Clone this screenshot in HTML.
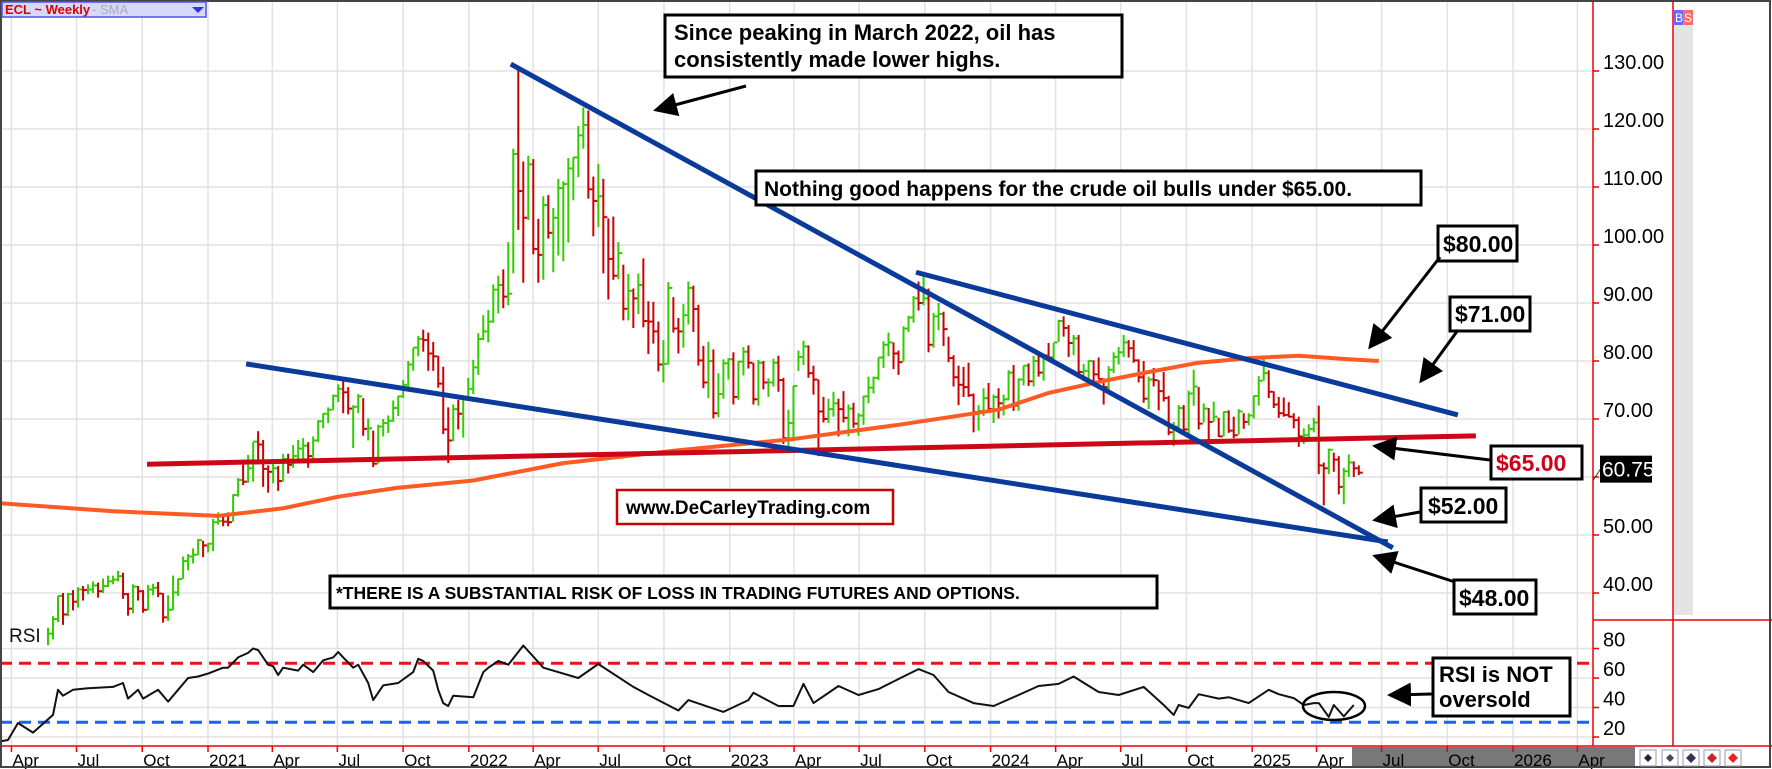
<!DOCTYPE html>
<html><head><meta charset="utf-8"><style>
html,body{margin:0;padding:0;background:#fff;}
svg{display:block;font-family:"Liberation Sans",Arial,sans-serif;}
</style></head><body>
<svg id="chart" xmlns="http://www.w3.org/2000/svg" width="1772" height="769" viewBox="0 0 1772 769">
<rect x="0" y="0" width="1772" height="769" fill="#fff"/>
<g id="grid"></g>
<g id="bars"></g>
<g id="overlay"></g>
<g id="rsi"></g>
<g id="axes"></g>
<g id="ann"></g>
</svg>
<script>
// ---- data (weekly bars starting 2020-05-22) ----
const highs=[34,36, 39.5,40,40,40.5, 41,41.2,41.5,42,41.8, 42.5,43,43,43.8, 43.5,40,41.5,41.2, 40.5,41.4,41.6,41.9,40, 39.6,43,42.5,46.3, 46.7,47.7,49.3,49,
48.6,52.8,53.9,53.5,53.9, 57,59.8,62.3,63.8, 66,67.9,66.4,62, 62.3,61.9,64,64,65.5, 66.4,66.7,66,67, 69.8,71,72,74.2, 76,76.9,75.5,72.4,74.3, 73.6,70.1,68,69, 70,70.6,73.2,74, 76.7,80,82.2,84.3,85.4, 84.9,83.3,80.9,79, 72,72.5,73.3,74,77.1,
80.2,84.8,87.9,88.8, 93.2,94.7,95.8,100.5, 116.6,130.5,114.4,115.4, 114.8,104.5,108.4,108.6,106.4, 111.4,111,115,115.1, 120.5,123.7,123.2,111.8, 114,111.4,104.6,104.9,100.5, 96.6,95,92.5,95.1, 97.7,90.3,90.2,86.8,83.6, 93.6,91,87.4,89.8, 93.7,93,89.7,82.6, 83.3,82,77.9,80.3,80.5,
81.5,80,82.4,82.7, 79.7,80.2,80,77, 80.4,80.9,77.1,71.6,75.7, 81.8,83.5,82.7,79.2, 76.8,73.8,73.5,74.7, 73.5,74.8,72.5,72.8,71, 74,77.3,77.3,80.6, 83.4,84.9,83.2,81.8, 86,87.8,91.2,93.7,95, 92.5,88.3,90,88.5, 84.2,81,79.2,79, 79.7,74.4,72.4,75.3,76.2,
74.2,75.3,74.2,78.4, 79.3,77,79.2,79.6, 80.9,80.9,81.2,83.1,83.1, 87.1,87.7,86.2,84.5, 84.5,79.5,80.1,80.1,80.6, 77,79.1,81.5,82.4, 84.5,83.6,83.6,80.3, 80,77.3,78.8,76.7,78.1, 74,69.5,72.4,72.4, 74.9,78.5,75.5,72.7, 71.9,73,70.2,71.3,71.5, 70.4,71.7,71,71,
74,77.4,80.8,78.4,74.8, 73.8,73.7,72.9,71, 70.4,68.4,69.1,70.2, 72.3,62.5,64.9,64.2, 63.6,61.6,63.9,62.7,62];
const lows=[31,32, 35,34.5,36,37, 37.5,38.7,39.8,40,39.2, 40,41,41.5,42, 39,36.1,36.5,38.7, 36.6,37,39.6,39.3,34.9, 35.2,37,39.5,42.4, 43.9,45.1,46.5,46.2,
47,47.2,51.8,51.5,51.5, 52.3,56.6,58.6,59, 59.2,63,58.3,57.3, 58.9,57.6,59.2,60.6,61.6, 63.1,63,61.6,62.6, 66,68.4,69.3,71.5, 72.9,71,70.8,65,71, 67.1,66.3,61.7,62.3, 67,67.6,69.5,70.5, 73.6,74.9,78.3,80.8,81.6, 78.3,78.3,75.4,67.4, 62.4,66.2,68.2,66.8,73.5,
74.3,77.6,83.6,83.2, 86.6,88.2,89.1,89.6, 95.1,102.6,93.5,104.3, 98.4,93.5,94,101.1,95.3, 98.2,97.2,100.4,107.7, 111.7,116.6,108,101.5, 103.1,95.1,90.6,94,94.1, 87,87,85.7,88.1, 85.8,81.2,83,78.2,76.3, 79.4,84.9,81.3,82.3, 86.3,85,79.2,75.3, 73.6,70.1,70.3,73.5,76.8,
72.5,73.3,77.5,78.7, 72.5,72.3,75.1,73.8, 75.6,74.7,65.7,64.1,66.8, 78.3,79.3,77.1,74.2, 63.6,69.4,69.3,70.4, 67,69.4,67,68.5,67.1, 69,72.7,74.4,76.7, 78.8,80.8,78.6,77.6, 79.9,85,86.6,88.7,89.6, 81.5,82.3,85.3,82.6, 79.8,75.6,72.4,73.8, 73.8,67.7,68,70.5,71.4,
69.3,70.1,70.6,73.2, 71.4,71.4,75.8,75.7, 75.6,77.3,76.6,79.9,80, 83.3,84.2,80.7,81, 77.6,76.5,76.6,76,76.9, 72.5,75.1,77.9,79.4, 80.7,80.6,79.7,76.3, 72.8,71.7,75.6,71.5,73, 67.2,65.3,67.8,67.3, 66.8,72.3,68.2,69.4, 65.7,69.5,66.9,67,67.6, 66.7,67.3,68.3,68.9,
70.1,72.3,76.6,73.6,71.9, 70.2,70.4,70.3,68.4, 65.2,65.7,66.2,67.7, 60.5,55.1,60.5,60.9, 57,55.3,60,60,60.3];
const closes=[33,35.5, 39.5,36.3,39.8,38.5, 40.6,40.5,40.6,41.3,40.3, 41.2,42,42.3,42.9, 39.8,37.3,41.1,40.3, 37.1,40.6,40.9,39.9,35.8, 37.1,40.1,42.4,45.5, 46.3,46.6,49.1,48.2,
48.5,52.2,52.4,52.3,52.2, 56.9,59.5,59.2,61.5, 66.1,65.6,61.4,60.9, 61.5,59.3,63.1,62.1,63.6, 64.9,65.4,63.6,66.3, 69.6,70.9,71.6,74, 75.2,74.6,71.8,72.1,73.9, 68.3,68.4,62.3,68.7, 69.3,69.7,71.9,73.9, 75.9,79.4,82.3,83.8,83.6, 81.3,80.8,76.1,68.2, 66.3,71.7,70.9,73.8,75.2,
78.9,83.8,85.1,86.8, 92.3,93.1,91.1,91.6, 115.7,109.3,104.7,113.9, 99.3,98.3,106.9,102.1,104.7, 109.8,110.5,113.2,115.1, 118.9,120.7,109.6,107.6, 108.4,104.8,97.6,94.7,98.6, 89,92.1,90.8,93.1, 86.9,86.8,85.1,79.4,79.5, 92.6,85.6,85.1,87.9, 92.6,88.96,80.1,76.3, 80,71,74.3,79.6,80.3,
73.8,79.9,81.6,79.7, 73.4,79.7,76.3,76.3, 79.7,76.7,66.7,69.3,75.7, 80.7,82.5,77.9,76.8, 71.3,70,71.7,72.7, 71.7,70.2,71.8,69.2,70.6, 73.9,75.4,77.1,80.6, 82.8,83.2,81.3,79.8, 85.6,87.5,90.8,90,90.8, 82.8,87.7,88.1,85.5, 80.5,77.2,75.9,75.5, 74.1,71.2,71.4,73.6,71.7,
73.8,72.7,73.4,78, 72.3,76.8,79.2,76.5, 80,78,81,80.6,83.2, 86.9,85.7,83.1,83.9, 78.1,78.3,80,77.7,76.9, 75.5,78.5,80.7,81.5, 83.2,82.2,80.1,77.2, 73.5,76.8,76.7,74.8,73.6, 67.7,68.7,71.9,68.2, 74.4,75.6,69.2,71.8, 69.5,70.4,67,71.2,68, 67.2,71.3,69.5,70.6,
73.96,76.6,77.9,74.7,72.5, 71,70.7,70.4,69.8, 67,67.2,68.3,69.4, 61.99,61.5,64.7,63, 58.3,61,62.5,61.5,60.75];
// SMA (weeks relative to 2020-05-22, price)
const smaWeeks=[-10,13,34,47,58,69.5,85,103,126,148.5,170,190,200,210,220,230,240,250,260,266];
const smaVals=[55.5,54.1,53.3,54.6,56.6,58.1,59.4,62.4,64.6,66.5,69,71.6,74.5,76.4,78.1,79.7,80.5,80.9,80.3,80];
// RSI (weeks relative to 2020-05-22, value)
const rsiWeeks=[-10,-8,-6,-3,1,2,3,5,8,13,15,16,18,19,22,24,26,28,30,32,35,36,38,40,41,42,44,45,46,47,50,51,53,55,57,58,59,61,62,64,65,67,70,73,74,75,77,78,79,80,81,85,87,88,90,92,95,99,106,110,117,120,126,128,135,140,141,146,149,151,153,158,162,166,171,174,177,180,185,189,194,198,202,205,210,214,219,223,225,226,228,230,234,236,240,244,246,249,251,253,254,256,257,259,261];
const rsiVals=[17,18,29.5,23,35,52,48,52,53,54,56.6,46,52,46,52,44,52,60,61,63,67,67,74,77,80,79,69,68,62,67,65,69,64,72,74,77.6,74,67,69,56.6,45,55,56.6,64,73,71.5,65,52,43,41,48,47,64,67,71.5,69,82,67,60,69.5,54,48.5,38,45,37,45,50,41,41,56,43,54.6,48.5,52.5,61,66,62,50.5,43,41,48.5,54.6,56,61,50.5,48.5,54,41.7,35,41.7,39.7,49,46,47,43,52,49,46.4,41.7,43,43,33.6,41.7,34,41.7,39.7];
const priceTicks=[130,120,110,100,90,80,70,60,50,40];
const rsiTicks=[80,60,40,20];
const monthNames=["Apr","Jul","Oct"];
// trendlines: [startWeek,startPrice,endWeek,endPrice]
const blueLine1=[92.5,131.2,268.8,47.8];
const blueLine2=[173.5,95.3,281.8,70.7];
const blueLine3=[39.6,79.5,267.8,48.8];
const redLine=[19.8,62.2,285.4,67.1];
const lastPrice=60.75;

const NS="http://www.w3.org/2000/svg";
function mk(tag,attrs,parent,text){const e=document.createElementNS(NS,tag);for(const k in attrs)e.setAttribute(k,attrs[k]);if(text!==undefined)e.textContent=text;parent.appendChild(e);return e;}
const px=w=>48+w*5.003;
const py=p=>71+(130-p)*5.8;
const ry=v=>737-(v-20)*1.475;
const dx=(y,m)=>208+((Date.UTC(y,m,1)-Date.UTC(2021,0,1))/86400000)*0.7147;
const G=id=>document.getElementById(id);

// grid
const grid=G('grid');
const qs=[];
for(let y=2020;y<=2026;y++){for(let m of [0,3,6,9]){if(y===2020&&m<3)continue;if(y===2026&&m>3)continue;qs.push([y,m]);}}
qs.forEach(q=>{const l=mk('line',{x1:dx(q[0],q[1]),x2:dx(q[0],q[1]),y1:0,y2:746,stroke:'#e2e2e2','stroke-width':1.5},grid);
});
priceTicks.forEach(p=>{const l=mk('line',{x1:0,x2:1593,y1:py(p),y2:py(p),stroke:'#e2e2e2','stroke-width':1.5},grid);
});
rsiTicks.forEach(v=>{const l=mk('line',{x1:0,x2:1593,y1:ry(v),y2:ry(v),stroke:'#e2e2e2','stroke-width':1.5},grid);
});

// bars
const bars=G('bars');
for(let i=0;i<closes.length;i++){
  const up=i===0?true:closes[i]>=closes[i-1];
  const col=up?'#33cc00':'#cc0000';const x=px(i);
  const b=mk('line',{x1:x,x2:x,y1:py(highs[i]),y2:py(lows[i]),stroke:col,'stroke-width':2},bars);
  
  const t=mk('line',{x1:x,x2:x+4,y1:py(closes[i]),y2:py(closes[i]),stroke:col,'stroke-width':2},bars);
  
}
// overlays
const ov=G('overlay');
let d='';smaWeeks.forEach((w,i)=>{d+=(i?'L':'M')+px(w).toFixed(1)+','+py(smaVals[i]).toFixed(1);});
const sma=mk('path',{d:d,fill:'none',stroke:'#ff5a24','stroke-width':4,'stroke-linejoin':'round'},ov);

function tl(a,col,name){const l=mk('line',{x1:px(a[0]),y1:py(a[1]),x2:px(a[2]),y2:py(a[3]),stroke:col,'stroke-width':5},ov);
}
tl(redLine,'#cc0818','support-65-line');
tl(blueLine1,'#0a3a9a','march-2022-downtrend-line');
tl(blueLine2,'#0a3a9a','sept-2023-downtrend-line');
tl(blueLine3,'#0a3a9a','lower-wedge-line');

// rsi
const rs=G('rsi');
const r70=mk('line',{x1:0,x2:1590,y1:ry(70),y2:ry(70),stroke:'#ee1111','stroke-width':3,'stroke-dasharray':'12,7'},rs);

const r30=mk('line',{x1:0,x2:1590,y1:ry(30),y2:ry(30),stroke:'#1166ee','stroke-width':3,'stroke-dasharray':'12,7'},rs);

let rd='';rsiWeeks.forEach((w,i)=>{rd+=(i?'L':'M')+Math.max(0,px(w)).toFixed(1)+','+ry(rsiVals[i]).toFixed(1);});
const rl=mk('path',{d:rd,fill:'none',stroke:'#111','stroke-width':2,'stroke-linejoin':'round'},rs);

const rlab=mk('text',{x:9,y:642,'font-size':19,fill:'#111'},rs,'RSI');


// axes
const ax=G('axes');
mk('rect',{x:1352,y:747,width:283,height:21,fill:'#787878'},ax);
mk('rect',{x:1674,y:10,width:19,height:605,fill:'#e4e4e4'},ax);
mk('line',{x1:1593,x2:1593,y1:0,y2:746,stroke:'#ee0000','stroke-width':1.5},ax);
mk('line',{x1:1673,x2:1673,y1:0,y2:746,stroke:'#ee0000','stroke-width':1.5},ax);
mk('line',{x1:1593,x2:1772,y1:620,y2:620,stroke:'#ee0000','stroke-width':1.5},ax);
mk('line',{x1:0,x2:1772,y1:746,y2:746,stroke:'#ee0000','stroke-width':1.5},ax);
priceTicks.forEach(p=>{mk('line',{x1:1593,x2:1599,y1:py(p),y2:py(p),stroke:'#ee0000','stroke-width':1.5},ax);
const t=mk('text',{x:1603,y:py(p)-2,'font-size':20,fill:'#000'},ax,p.toFixed(2));
});
rsiTicks.forEach(v=>{mk('line',{x1:1593,x2:1599,y1:ry(v),y2:ry(v),stroke:'#ee0000','stroke-width':1.5},ax);
const t=mk('text',{x:1603,y:ry(v)-2,'font-size':20,fill:'#000'},ax,String(v));
});
qs.forEach(q=>{const x=dx(q[0],q[1]);
mk('line',{x1:x,x2:x,y1:746,y2:752,stroke:'#ee0000','stroke-width':1.5},ax);
const lab=q[1]===0?String(q[0]):monthNames[q[1]/3-1];
const t=mk('text',{x:x+1,y:766,'font-size':17,fill:'#000'},ax,lab);
});
// last price
const lp=mk('g',{},ax);
mk('line',{x1:1593,y1:py(lastPrice)+8,x2:1602,y2:py(lastPrice)-6,stroke:'#333','stroke-width':1},lp);
mk('rect',{x:1600,y:py(lastPrice)-17,width:52,height:27,fill:'#000'},lp);
mk('text',{x:1602,y:py(lastPrice)+4,'font-size':21,fill:'#fff'},lp,lastPrice.toFixed(2));
</script>
<svg style="position:absolute;left:0;top:0" width="1772" height="769" xmlns="http://www.w3.org/2000/svg" font-family="Liberation Sans, Arial, sans-serif">
<defs><marker id="ah" markerWidth="8" markerHeight="8" refX="7" refY="4" orient="auto" markerUnits="strokeWidth"><path d="M0,0 L8,4 L0,8 z" fill="#000"/></marker></defs>
<rect x="1" y="1" width="1769" height="766" fill="none" stroke="#444" stroke-width="2"/>
<g>
<rect x="2" y="2" width="204" height="15" fill="#d8d8fa" stroke="#5050ee" stroke-width="1.5"/>
<text x="5" y="14" font-size="13" font-weight="bold" fill="#dd0000">ECL ~ Weekly</text>
<text x="92" y="14" font-size="13" fill="#aab">-  SMA</text>
<path d="M192,7 L204,7 L198,13 z" fill="#3030ee"/>
</g>
<g>
<rect x="1674" y="10" width="9" height="15" fill="#6a6aff"/><rect x="1683" y="10" width="10" height="15" fill="#ff6a6a"/>
<text x="1675" y="22" font-size="12" fill="#fff">B</text><text x="1684" y="22" font-size="12" fill="#fff">S</text>
</g>
<g fill="#fff" stroke="#99a" stroke-width="1">
<rect x="1640" y="750" width="16" height="16"/><rect x="1662" y="750" width="16" height="16"/><rect x="1683" y="750" width="16" height="16"/><rect x="1704" y="750" width="16" height="16"/><rect x="1725" y="750" width="16" height="16"/>
<path d="M1648,754 l4,4 -4,4 -4,-4z" fill="#224" stroke="none"/><path d="M1670,754 l4,4 -4,4 -4,-4z" fill="#446" stroke="none"/><path d="M1691,753 l5,5 -5,5 -5,-5z" fill="#335" stroke="none"/><path d="M1712,753 l5,5 -5,5 -5,-5z" fill="#c22" stroke="none"/><path d="M1733,753 l5,5 -5,5 -5,-5z" fill="#e22" stroke="none"/>
</g>
<g>
<rect x="665" y="15" width="457" height="62" fill="#fff" stroke="#000" stroke-width="3"/>
<text x="674" y="40" font-size="22" font-weight="bold">Since peaking in March 2022, oil has</text>
<text x="674" y="67" font-size="22" font-weight="bold">consistently made lower highs.</text>
<line x1="746" y1="86" x2="656" y2="110" stroke="#000" stroke-width="3" marker-end="url(#ah)"/>
</g>
<g>
<rect x="756" y="171" width="665" height="34" fill="#fff" stroke="#000" stroke-width="3"/>
<text x="764" y="196" font-size="21" font-weight="bold">Nothing good happens for the crude oil bulls under $65.00.</text>
</g>
<g>
<rect x="1438" y="226" width="79" height="35" fill="#fff" stroke="#000" stroke-width="3"/>
<text x="1443" y="252" font-size="23" font-weight="bold">$80.00</text>
<line x1="1440" y1="257" x2="1370" y2="347" stroke="#000" stroke-width="3" marker-end="url(#ah)"/>
</g>
<g>
<rect x="1450" y="297" width="80" height="34" fill="#fff" stroke="#000" stroke-width="3"/>
<text x="1455" y="322" font-size="23" font-weight="bold">$71.00</text>
<line x1="1458" y1="330" x2="1421" y2="381" stroke="#000" stroke-width="3" marker-end="url(#ah)"/>
</g>
<g>
<rect x="1491" y="446" width="91" height="33" fill="#fff" stroke="#000" stroke-width="3"/>
<text x="1496" y="471" font-size="23" font-weight="bold" fill="#d00018">$65.00</text>
<line x1="1490" y1="460" x2="1375" y2="446" stroke="#000" stroke-width="3" marker-end="url(#ah)"/>
</g>
<g>
<rect x="1421" y="488" width="85" height="34" fill="#fff" stroke="#000" stroke-width="3"/>
<text x="1428" y="514" font-size="23" font-weight="bold">$52.00</text>
<line x1="1420" y1="512" x2="1375" y2="520" stroke="#000" stroke-width="3" marker-end="url(#ah)"/>
</g>
<g>
<rect x="1454" y="580" width="82" height="34" fill="#fff" stroke="#000" stroke-width="3"/>
<text x="1459" y="606" font-size="23" font-weight="bold">$48.00</text>
<line x1="1455" y1="582" x2="1375" y2="556" stroke="#000" stroke-width="3" marker-end="url(#ah)"/>
</g>
<g>
<rect x="617" y="490" width="276" height="34" fill="#fff" stroke="#cc0000" stroke-width="2.5"/>
<text x="626" y="514" font-size="19" font-weight="bold">www.DeCarleyTrading.com</text>
</g>
<g>
<rect x="330" y="576" width="827" height="32" fill="#fff" stroke="#000" stroke-width="3"/>
<text x="336" y="599" font-size="17.5" font-weight="bold">*THERE IS A SUBSTANTIAL RISK OF LOSS IN TRADING FUTURES AND OPTIONS.</text>
</g>
<g>
<rect x="1433" y="658" width="137" height="58" fill="#fff" stroke="#000" stroke-width="3"/>
<text x="1439" y="682" font-size="22" font-weight="bold">RSI is NOT</text>
<text x="1439" y="707" font-size="22" font-weight="bold">oversold</text>
<line x1="1432" y1="694" x2="1390" y2="695" stroke="#000" stroke-width="3" marker-end="url(#ah)"/>
<ellipse cx="1334" cy="706" rx="31" ry="14" fill="none" stroke="#000" stroke-width="2.5"/>
</g>
</svg>
</body></html>
